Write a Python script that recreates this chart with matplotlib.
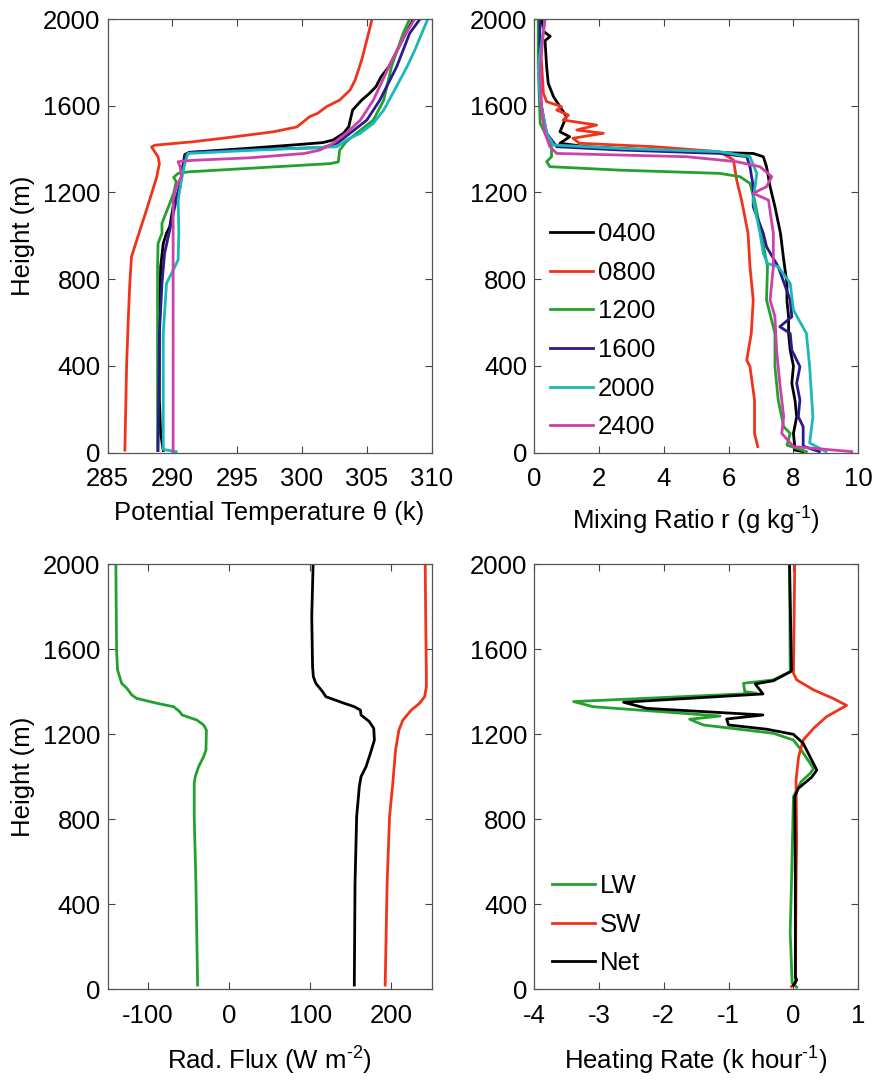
import matplotlib
matplotlib.use("Agg")
import matplotlib.pyplot as plt

plt.rcParams['font.family'] = ['Liberation Sans', 'DejaVu Sans']
plt.rcParams['mathtext.fontset'] = 'custom'
plt.rcParams['mathtext.rm'] = 'Liberation Sans'
plt.rcParams['mathtext.it'] = 'Liberation Sans:italic'
plt.rcParams['axes.unicode_minus'] = False

FS = 18.5
C_BLACK = '#000000'
C_RED = '#f0341c'
C_GREEN = '#22a22c'
C_BLUE = '#2b1a8c'
C_CYAN = '#1bb8b8'
C_MAG = '#cc42a8'

# ---------------- Potential temperature profiles (theta, K ; height, m)
th_0400_h = [10, 89, 243, 550, 858, 965, 1012, 1042, 1134, 1227, 1319, 1375, 1385, 1403, 1419, 1430, 1442, 1473, 1503, 1580, 1626, 1657, 1688, 1734, 1780, 1934, 2000]
th_0400 = [289.3, 289.1, 289.0, 289.0, 289.1, 289.3, 289.55, 289.8, 290.06, 290.6, 290.8, 290.96, 291.3, 295.7, 299.3, 301.6, 302.4, 303.2, 303.6, 303.9, 304.6, 305.2, 305.7, 306.1, 306.7, 308.0, 308.6]

th_0800_h = [12, 397, 612, 781, 903, 1026, 1118, 1272, 1333, 1364, 1410, 1418, 1434, 1456, 1480, 1502, 1550, 1565, 1596, 1626, 1672, 1719, 1811, 1903, 2000]
th_0800 = [286.34, 286.47, 286.6, 286.72, 286.85, 287.5, 288.0, 288.8, 289.0, 288.9, 288.4, 288.65, 291.6, 294.7, 297.8, 299.6, 300.6, 301.2, 301.9, 302.9, 303.7, 304.1, 304.6, 305.0, 305.4]

th_1200_h = [10, 550, 858, 965, 1012, 1058, 1134, 1196, 1250, 1270, 1288, 1295, 1333, 1341, 1395, 1434, 1473, 1534, 1626, 1780, 1934, 2000]
th_1200 = [288.86, 288.86, 288.86, 288.9, 289.2, 289.2, 289.7, 290.1, 290.3, 290.1, 290.45, 291.2, 302.15, 302.8, 302.9, 303.4, 304.2, 305.5, 306.3, 306.9, 307.8, 308.3]

th_1600_h = [10, 550, 781, 919, 1027, 1165, 1273, 1373, 1385, 1399, 1407, 1427, 1473, 1534, 1626, 1780, 1934, 2000]
th_1600 = [288.9, 289.0, 289.2, 289.4, 289.8, 290.3, 290.7, 291.0, 291.4, 296.7, 301.6, 302.7, 303.7, 305.0, 306.0, 307.3, 308.3, 309.1]

th_2000_h = [5, 15, 550, 781, 858, 890, 1012, 1165, 1257, 1334, 1380, 1396, 1411, 1442, 1473, 1519, 1580, 1657, 1780, 1857, 2000]
th_2000 = [290.3, 289.3, 289.3, 289.55, 290.2, 290.45, 290.5, 290.45, 290.7, 290.96, 291.2, 296.7, 302.7, 303.4, 304.5, 305.5, 306.3, 307.0, 308.1, 308.7, 309.7]

th_2400_h = [5, 600, 1165, 1227, 1273, 1319, 1342, 1348, 1360, 1380, 1396, 1427, 1473, 1534, 1626, 1780, 1934, 2000]
th_2400 = [290.06, 290.06, 290.06, 290.3, 290.7, 290.6, 290.45, 291.5, 296.0, 300.2, 301.4, 302.4, 303.4, 304.5, 305.5, 306.7, 308.0, 308.7]

# ---------------- Mixing ratio profiles (r, g/kg ; height, m)
r_0400_h = [5, 12, 89, 166, 240, 320, 400, 473, 550, 627, 700, 781, 889, 1012, 1134, 1227, 1319, 1365, 1380, 1388, 1411, 1427, 1457, 1480, 1550, 1596, 1642, 1703, 1780, 1900, 1920, 1942, 2000]
r_0400 = [8.3, 8.05, 8.0, 8.1, 8.05, 7.95, 8.0, 7.9, 7.85, 7.85, 7.8, 7.8, 7.7, 7.6, 7.43, 7.28, 7.17, 7.07, 6.76, 4.7, 1.62, 0.8, 1.1, 0.8, 1.0, 0.8, 0.6, 0.44, 0.39, 0.34, 0.5, 0.3, 0.24]

r_0800_h = [28, 89, 243, 397, 427, 550, 704, 858, 1012, 1165, 1257, 1350, 1388, 1411, 1427, 1450, 1473, 1488, 1511, 1534, 1557, 1580, 1596, 1619, 1657, 1780, 2000]
r_0800 = [6.9, 6.8, 6.8, 6.66, 6.56, 6.7, 6.76, 6.66, 6.6, 6.4, 6.25, 6.15, 5.73, 3.7, 1.4, 1.2, 2.14, 1.32, 1.93, 0.9, 1.06, 0.7, 0.85, 0.39, 0.29, 0.24, 0.13]

r_1200_h = [5, 35, 89, 120, 243, 397, 550, 704, 858, 1012, 1165, 1242, 1273, 1288, 1303, 1319, 1342, 1365, 1411, 1473, 1519, 1780, 2000]
r_1200 = [8.4, 7.8, 7.9, 7.7, 7.53, 7.43, 7.43, 7.17, 7.2, 7.0, 6.8, 6.66, 6.35, 5.73, 2.65, 0.49, 0.39, 0.54, 0.54, 0.34, 0.19, 0.13, 0.13]

r_1600_h = [5, 30, 120, 166, 243, 320, 397, 473, 550, 581, 627, 704, 858, 950, 1012, 1134, 1227, 1319, 1365, 1380, 1396, 1411, 1473, 1550, 1642, 2000]
r_1600 = [8.8, 8.3, 8.3, 8.15, 8.2, 8.1, 8.2, 7.95, 7.9, 7.58, 7.95, 7.9, 7.53, 7.17, 7.07, 6.76, 6.76, 6.66, 6.56, 5.73, 2.65, 0.7, 0.39, 0.29, 0.18, 0.18]

r_2000_h = [5, 45, 166, 397, 550, 658, 781, 858, 872, 919, 1012, 1165, 1288, 1365, 1388, 1403, 1419, 1473, 1550, 1626, 1780, 2000]
r_2000 = [9.0, 8.5, 8.6, 8.5, 8.4, 8.0, 7.9, 7.53, 7.2, 7.07, 6.97, 6.76, 6.87, 6.66, 5.73, 2.65, 0.6, 0.39, 0.29, 0.19, 0.13, 0.34]

r_2400_h = [5, 28, 89, 166, 320, 473, 627, 704, 858, 1012, 1165, 1196, 1227, 1273, 1319, 1342, 1365, 1380, 1411, 1473, 1565, 1780, 1934, 2000]
r_2400 = [9.8, 8.0, 7.64, 7.7, 7.58, 7.48, 7.43, 7.28, 7.38, 7.38, 7.23, 6.76, 7.17, 7.33, 6.97, 6.25, 4.7, 0.7, 0.49, 0.34, 0.24, 0.19, 0.29, 0.34]

# ---------------- Radiative fluxes (W m-2 ; height, m)
fl_h_lw = [20, 498, 812, 969, 1000, 1047, 1094, 1125, 1219, 1243, 1266, 1290, 1306, 1329, 1345, 1368, 1384, 1415, 1439, 1502, 1596, 2000]
fl_lw = [-38.8, -40.9, -43.0, -43.0, -41.7, -37.6, -31.4, -28.5, -28.0, -31.4, -39.7, -58.0, -61.0, -68.6, -89.0, -114.0, -120.0, -126.0, -132.6, -137.6, -138.8, -139.7]

fl_h_sw = [20, 498, 812, 969, 1125, 1219, 1266, 1313, 1345, 1376, 1423, 1486, 1752, 2000]
fl_sw = [192.6, 195.0, 198.0, 202.0, 205.4, 209.5, 214.5, 224.8, 235.0, 241.3, 243.4, 243.4, 242.6, 242.0]

fl_h_net = [20, 498, 812, 953, 1000, 1047, 1110, 1172, 1227, 1259, 1290, 1313, 1329, 1345, 1376, 1400, 1439, 1470, 1517, 1752, 2000]
fl_net = [154.5, 155.4, 157.4, 160.7, 162.8, 169.0, 174.4, 179.3, 178.5, 173.0, 162.8, 162.0, 154.5, 142.0, 119.4, 115.3, 107.0, 104.0, 103.0, 102.0, 103.7]

# ---------------- Heating rates (K/hour ; height, m)
hr_h_lw = [10, 30, 270, 500, 906, 977, 1016, 1039, 1125, 1172, 1204, 1243, 1270, 1285, 1329, 1353, 1392, 1400, 1439, 1455, 1494, 2000]
hr_lw = [0.05, -0.02, -0.05, -0.03, 0.0, 0.12, 0.26, 0.31, 0.12, 0.0, -0.31, -1.39, -1.6, -1.13, -3.09, -3.39, -0.57, -0.75, -0.77, -0.31, -0.05, -0.06]

hr_h_sw = [13, 28, 498, 702, 984, 1094, 1172, 1227, 1282, 1335, 1368, 1408, 1455, 1486, 2000]
hr_sw = [-0.03, 0.03, 0.04, 0.05, 0.04, 0.08, 0.15, 0.31, 0.51, 0.82, 0.61, 0.31, 0.05, 0.0, 0.02]

hr_h_net = [20, 44, 60, 498, 906, 945, 997, 1031, 1157, 1199, 1223, 1243, 1271, 1290, 1321, 1350, 1389, 1436, 1451, 1494, 1500, 2000]
hr_net = [0.0, 0.05, 0.03, 0.03, 0.02, 0.075, 0.28, 0.36, 0.15, 0.0, -0.41, -1.0, -1.03, -0.47, -2.26, -2.62, -0.47, -0.59, -0.31, -0.043, -0.03, -0.06]

time_labels = ['0400', '0800', '1200', '1600', '2000', '2400']
flux_labels = ['LW', 'SW', 'Net']

y_ticks = [0, 400, 800, 1200, 1600, 2000]

LW = 2.0

fig = plt.figure(figsize=(8.72, 10.82), dpi=100)
W, H = 872.0, 1082.0
def rect(x0, y0, x1, y1):
    return [x0 / W, 1 - y1 / H, (x1 - x0) / W, (y1 - y0) / H]

ax1 = fig.add_axes(rect(107.5, 19, 431.7, 452.7))
ax2 = fig.add_axes(rect(534, 19, 858.3, 452.7))
ax3 = fig.add_axes(rect(107.5, 564, 431.7, 989.3))
ax4 = fig.add_axes(rect(534, 564, 858.3, 989.3))

def style(ax):
    ax.set_ylim(0, 2000)
    ax.set_yticks(y_ticks)
    ax.tick_params(direction='in', top=True, right=True, length=5, width=0.8,
                   color='#444444', labelsize=FS, labelcolor='black')
    ax.tick_params(axis='x', pad=10.5)
    ax.tick_params(axis='y', pad=5)
    for s in ax.spines.values():
        s.set_color('#555555')
        s.set_linewidth(0.9)

# Panel 1
th_series = [(th_0400, th_0400_h, C_BLACK), (th_0800, th_0800_h, C_RED), (th_1200, th_1200_h, C_GREEN),
             (th_1600, th_1600_h, C_BLUE), (th_2000, th_2000_h, C_CYAN), (th_2400, th_2400_h, C_MAG)]
for x, h, c in th_series:
    ax1.plot(x, h, color=c, lw=LW)
ax1.set_xlim(285, 310)
ax1.set_xticks([285, 290, 295, 300, 305, 310])
style(ax1)
ax1.set_xlabel('Potential Temperature θ (k)', fontsize=FS, labelpad=7.3)
ax1.set_ylabel('Height (m)', fontsize=FS, labelpad=6)

# Panel 2
r_series = [(r_0400, r_0400_h, C_BLACK), (r_0800, r_0800_h, C_RED), (r_1200, r_1200_h, C_GREEN),
            (r_1600, r_1600_h, C_BLUE), (r_2000, r_2000_h, C_CYAN), (r_2400, r_2400_h, C_MAG)]
for (x, h, c), lab in zip(r_series, time_labels):
    ax2.plot(x, h, color=c, lw=LW, label=lab)
ax2.set_xlim(0, 10)
ax2.set_xticks([0, 2, 4, 6, 8, 10])
style(ax2)
ax2.set_xlabel(r'Mixing Ratio r (g kg$^{\text{-1}}$)', fontsize=FS, labelpad=9.5)
ax2.legend(loc='upper left', bbox_to_anchor=(0.049, 0.532), frameon=False, fontsize=FS,
           handlelength=1.67, handletextpad=0.2, borderpad=0, borderaxespad=0, labelspacing=0.57)

# Panel 3
ax3.plot(fl_lw, fl_h_lw, color=C_GREEN, lw=LW)
ax3.plot(fl_sw, fl_h_sw, color=C_RED, lw=LW)
ax3.plot(fl_net, fl_h_net, color=C_BLACK, lw=LW)
ax3.set_xlim(-150, 250)
ax3.set_xticks([-100, 0, 100, 200])
style(ax3)
ax3.set_xlabel(r'Rad. Flux (W m$^{\text{-2}}$)', fontsize=FS, labelpad=12.4)
ax3.set_ylabel('Height (m)', fontsize=FS, labelpad=6)

# Panel 4
ax4.plot(hr_lw, hr_h_lw, color=C_GREEN, lw=LW, label=flux_labels[0])
ax4.plot(hr_sw, hr_h_sw, color=C_RED, lw=LW, label=flux_labels[1])
ax4.plot(hr_net, hr_h_net, color=C_BLACK, lw=LW, label=flux_labels[2])
ax4.set_xlim(-4, 1)
ax4.set_xticks([-4, -3, -2, -1, 0, 1])
style(ax4)
ax4.set_xlabel(r'Heating Rate (k hour$^{\text{-1}}$)', fontsize=FS, labelpad=12.4)
ax4.legend(loc='upper left', bbox_to_anchor=(0.0555, 0.271), frameon=False, fontsize=FS,
           handlelength=1.67, handletextpad=0.2, borderpad=0, borderaxespad=0, labelspacing=0.57)

fig.savefig('out.png', dpi=100)
